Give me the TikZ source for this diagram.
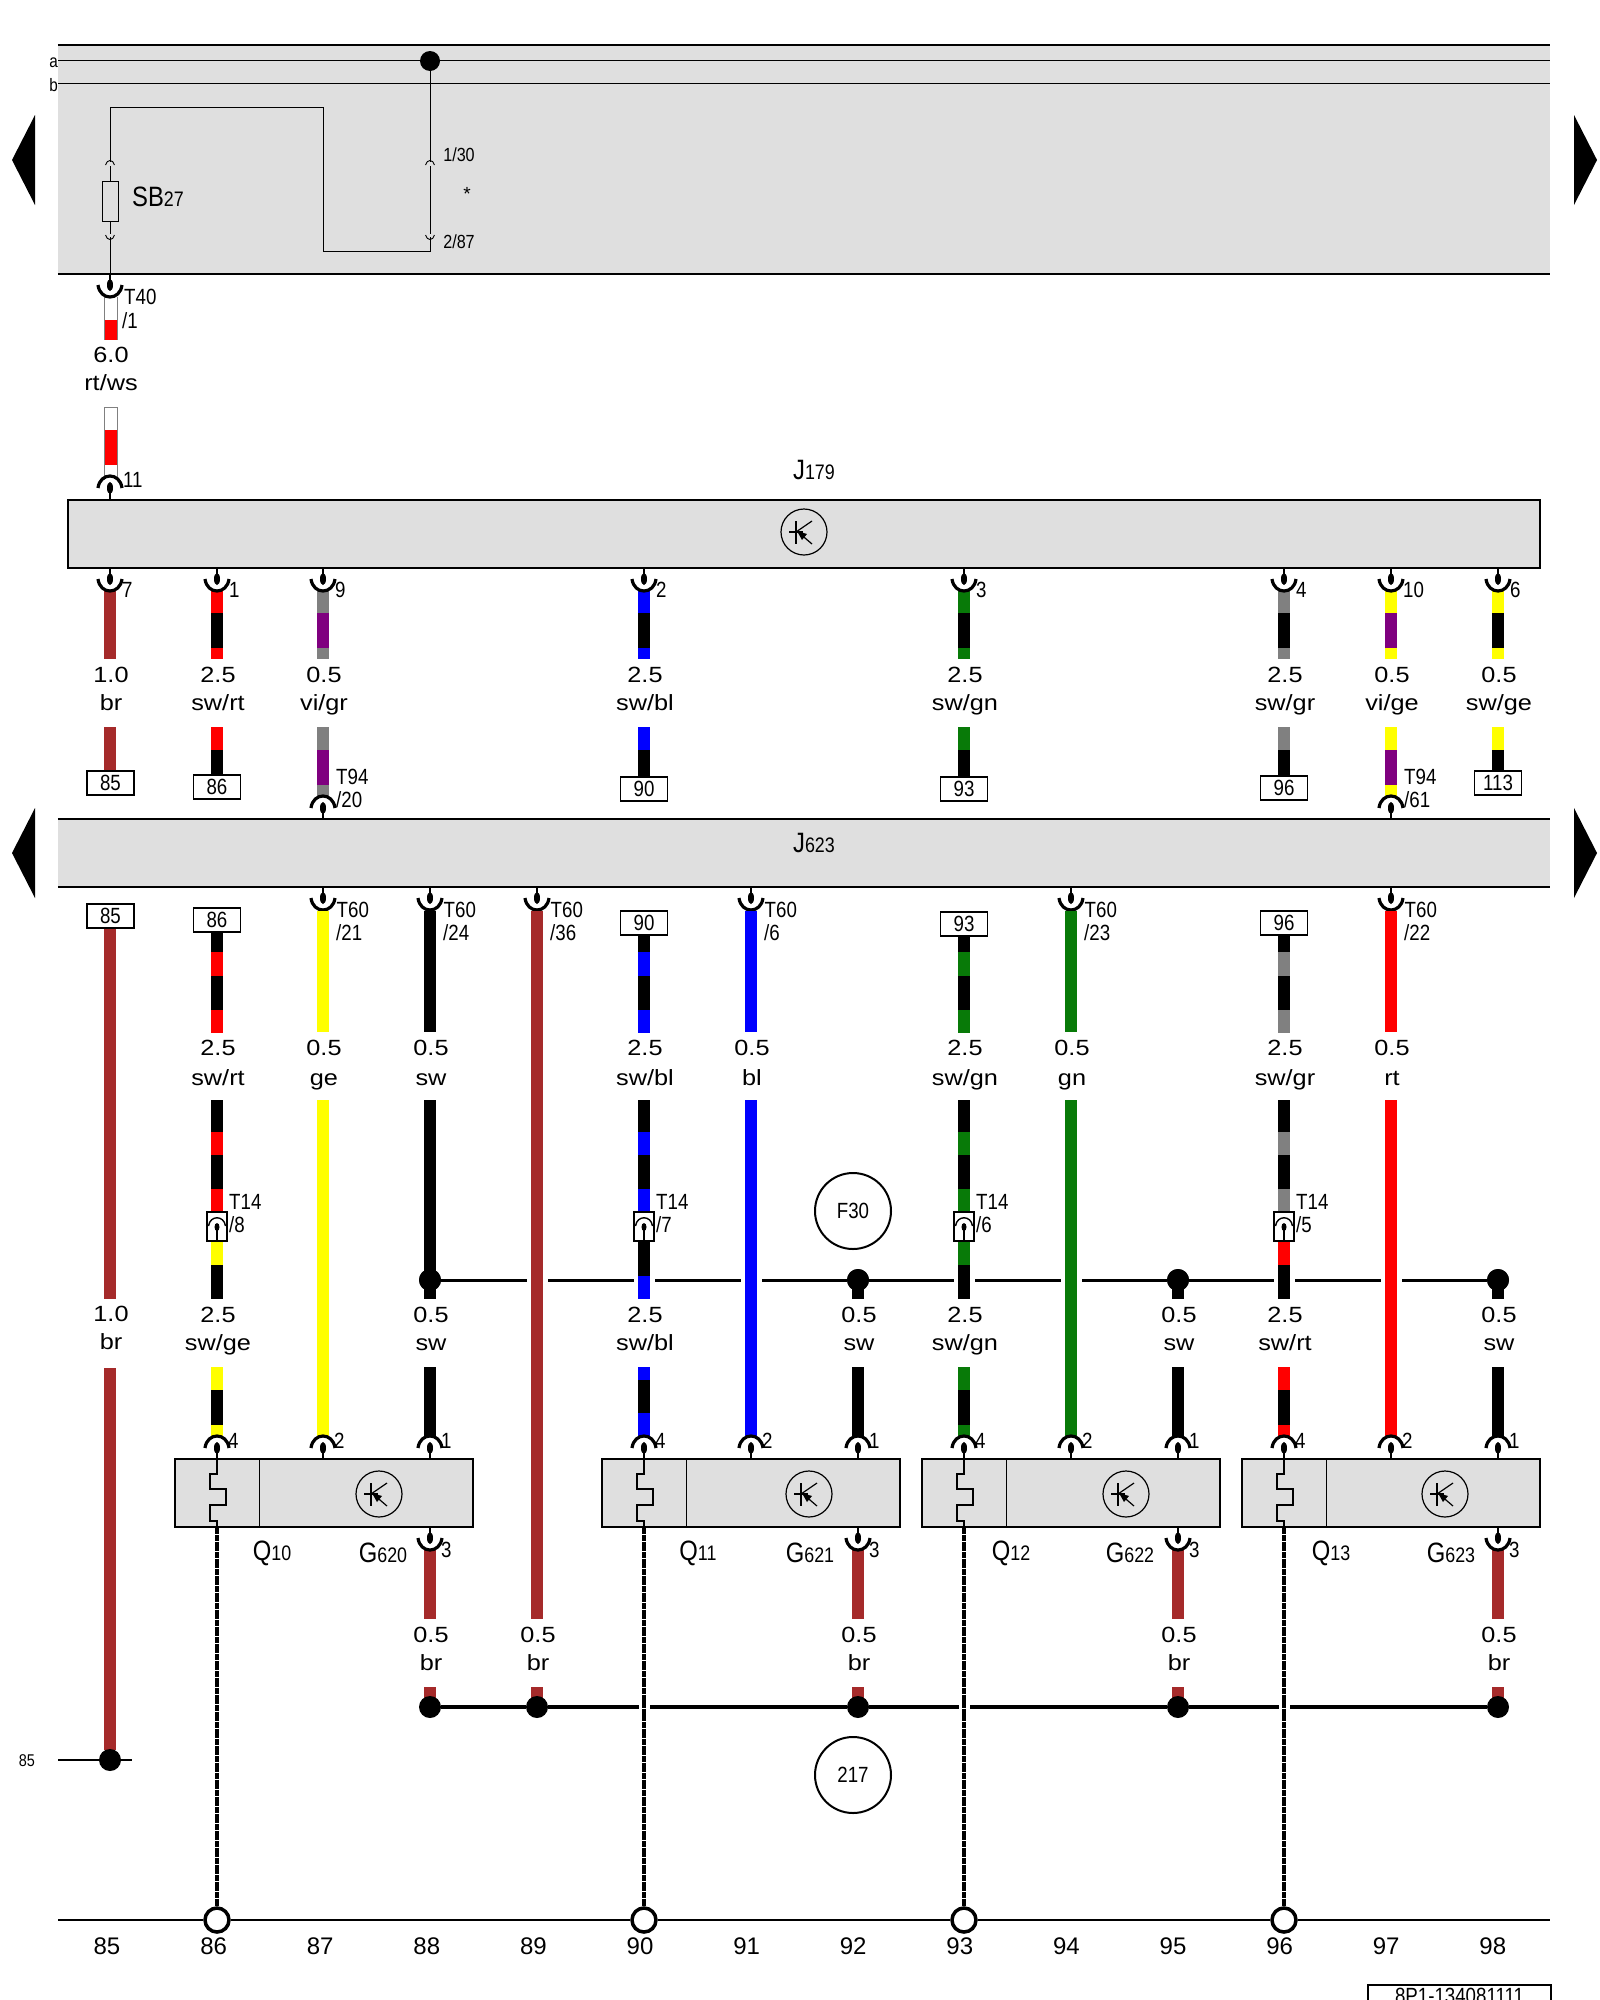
\documentclass[tikz,border=0pt]{standalone}
\usepackage{fontspec}
\usetikzlibrary{arrows}
\setmainfont{Liberation Sans}
\newfontfamily\narrowfont[FakeStretch=0.85]{Liberation Sans}
\newfontfamily\widefont[FakeStretch=1.15]{Liberation Sans}

\definecolor{wbr}{HTML}{A52A2A}
\definecolor{wrt}{HTML}{FF0000}
\definecolor{wge}{HTML}{FFFF00}
\definecolor{wbl}{HTML}{0000FF}
\definecolor{wgn}{HTML}{087A08}
\definecolor{wvi}{HTML}{7F007F}
\definecolor{wgr}{HTML}{808080}
\definecolor{wsw}{HTML}{000000}
\definecolor{strip}{HTML}{DFDFDF}

\newcommand{\wirepart}[4]{\draw[wire,draw=#4] (#1,#2) -- (#1,#3);}
\newcommand{\compname}[2]{{\fontsize{28}{28}\selectfont #1\fontsize{21}{21}\selectfont #2}}

\tikzset{
	wire/.style={line width=12pt},
	stripline/.style={line width=2.5pt},
	thinline/.style={line width=0.9pt},
	gndwire/.style={line width=4pt,dash pattern=on 3pt off 0.4pt},
	stripbox/.style={fill=strip,inner sep=0pt},
	modbox/.style={draw,line width=2pt,fill=strip,inner sep=0pt,minimum height=68pt},
	blob/.style={circle,fill=black,inner sep=0pt,minimum size=22pt},
	gndring/.style={circle,draw,line width=3.5pt,fill=white,inner sep=0pt,minimum size=24pt},
	termbox/.style={draw,line width=1.8pt,fill=white,inner sep=0pt,minimum width=47pt,minimum height=24pt,
		font=\narrowfont\fontsize{22}{22}\selectfont},
	t14box/.style={draw,line width=1.6pt,fill=white,inner sep=0pt,minimum width=20pt,minimum height=29pt},
	gauge/.style={anchor=base,yshift=-7.5pt,inner sep=0pt,font=\widefont\fontsize{22}{22}\selectfont},
	pinno/.style={anchor=west,inner sep=0pt,font=\narrowfont\fontsize{22}{22}\selectfont},
	partlabel/.style={inner sep=0pt,font=\narrowfont},
	ringlabel/.style={circle,draw,line width=2pt,inner sep=0pt,minimum size=76pt,
		font=\narrowfont\fontsize{22}{22}\selectfont},
	pindown/.pic={
		\draw[line width=1.5pt] (0,0) -- (0,6);
		\fill (0,11) ellipse [x radius=3,y radius=6];
		\draw[line width=3.2pt] (-12,11) .. controls (-10,27) and (10,27) .. (12,11);
	},
	pinup/.pic={
		\draw[line width=1.5pt] (0,0) -- (0,-6);
		\fill (0,-11) ellipse [x radius=3,y radius=6];
		\draw[line width=3.2pt] (-12,-11) .. controls (-10,-27) and (10,-27) .. (12,-11);
	},
	pinsmall/.pic={
		\draw[line width=1.4pt] (-8.5,14) .. controls (-7,3) and (7,3) .. (8.5,14);
		\draw[line width=1.4pt] (0,14) -- (0,29);
		\fill (0,15) ellipse [x radius=2.5,y radius=4];
	},
	sensor/.pic={
		\draw[line width=1.2pt] (0,0) circle [radius=23];
		\draw[line width=1.2pt] (-15,0) -- (-1,0);
		\draw[line width=1.2pt] (-8,-11) -- (-8,12);
		\draw[line width=1.2pt] (-8,0) -- (8,-11);
		\draw[line width=1.2pt] (8,12) -- (-6,0);
		\fill (-7,-1) -- (3,2) -- (-2,8) -- cycle;
	},
}

\begin{document}
\begin{tikzpicture}[x=1pt,y=-1pt]
	\clip (0,0) rectangle (1600,2000);
	\fill[white] (0,0) rectangle (1600,2000);

	% sheets and strips
	\node[stripbox,minimum width=1492pt,minimum height=229pt] (top) at (804,159.5) {};
	\node[stripbox,minimum width=1492pt,minimum height=68pt] (j623) at (804,853) {};
	\foreach \s in {top,j623} {
		\draw[stripline] (\s.north west) -- (\s.north east);
		\draw[stripline] (\s.south west) -- (\s.south east);
	}
	\foreach \y in {160,853} {
		\fill (35,\y-45) -- (12,\y) -- (35,\y+45) -- cycle;
		\fill (1574,\y-45) -- (1597,\y) -- (1574,\y+45) -- cycle;
	}
	\node[modbox,minimum width=1472pt] (j179) at (804,533.5) {};
	\pic at (804,532) {sensor};
	\node[partlabel] (nj179) at (814,470) {\compname{J}{179}};
	\node[partlabel] (nj623) at (814,843) {\compname{J}{623}};

	% top strip
	\node[blob,minimum size=20pt] (dtop) at (430,61) {};
	\node[draw,thinline,inner sep=0pt,minimum width=16pt,minimum height=40pt] (fuse) at (110,201) {};
	\node[inner sep=0pt,anchor=east,font=\narrowfont\fontsize{18}{18}\selectfont] (la) at (58,63) {a};
	\node[inner sep=0pt,anchor=east,font=\narrowfont\fontsize{18}{18}\selectfont] (lb) at (58,85) {b};
	\node[partlabel,anchor=west] (nsb) at (132,197) {\compname{SB}{27}};
	\foreach \n/\y/\t in {n130/155/{1/30},n287/242/{2/87}}
		\node[partlabel,font=\narrowfont\fontsize{19}{19}\selectfont] (\n) at (459,\y) {\t};
	\node[partlabel,font=\fontsize{19}{19}\selectfont] (nstar) at (467,194) {*};
	\coordinate (a1) at (58,60);
	\coordinate (a2) at (1550,60);
	\coordinate (b1) at (58,83);
	\coordinate (b2) at (1550,83);
	\coordinate (f1) at (110,107);
	\coordinate (f2) at (323,107);
	\coordinate (f3) at (323,251);
	\coordinate (f4) at (430,251);
	\coordinate (f5) at (110,274);
	\foreach \from/\to in {a1/a2,b1/b2}
		\draw[thinline] (\from) -- (\to);
	\draw[thinline] (fuse.south) -- (f5);
	\draw[thinline] (fuse.north) -- (f1) -- (f2) -- (f3) -- (f4) -- (dtop);
	\foreach \x in {110,430} {
		\fill[strip] (\x-3,162) rectangle (\x+3,166);
		\fill[strip] (\x-3,234) rectangle (\x+3,237);
		\draw[thinline] (\x-4.5,165) .. controls (\x-3,159) and (\x+3,159) .. (\x+4.5,165);
		\draw[thinline] (\x-4.5,235) .. controls (\x-3,241) and (\x+3,241) .. (\x+4.5,235);
	}

	% strip to J179
	\foreach \y/\h in {297/43,407/73} {
		\draw[line width=1pt,wgr] (104,\y) -- (104,\y+\h);
		\draw[line width=1pt,wgr] (117,\y) -- (117,\y+\h);
	}
	\draw[line width=1pt,wgr] (104,407) -- (117,407);
	\wirepart{110.5}{320}{340}{wrt}
	\wirepart{110.5}{430}{465}{wrt}
	\pic at (110,274) {pindown};
	\pic at (110,499) {pinup};
	\node[pinno] (nt40) at (124,297) {T40};
	\node[pinno] (nt401) at (122,321) {/1};
	\node[pinno] (n11) at (123,480) {11};
	\node[gauge] (g60) at (111,355) {6.0};
	\node[gauge] (grt) at (111,383) {rt/ws};

	% J179 outgoing
	\wirepart{110}{590}{659}{wbr}
	\pic at (110,568) {pindown};
	\node[pinno] (p110) at (122,590) {7};
	\node[gauge] (a110) at (111,675) {1.0};
	\node[gauge] (b110) at (111,703) {br};
	\wirepart{110}{727}{775}{wbr}
	\foreach \x/\pin/\a/\b/\mm/\cc in {217/1/wrt/wsw/2.5/{sw/rt},323/9/wgr/wvi/0.5/{vi/gr},644/2/wbl/wsw/2.5/{sw/bl},964/3/wgn/wsw/2.5/{sw/gn},1284/4/wgr/wsw/2.5/{sw/gr},1391/10/wge/wvi/0.5/{vi/ge},1498/6/wge/wsw/0.5/{sw/ge}} {
		\wirepart{\x}{590}{613}{\a}
		\wirepart{\x}{613}{648}{\b}
		\wirepart{\x}{648}{659}{\a}
		\wirepart{\x}{727}{750}{\a}
		\pic at (\x,568) {pindown};
		\node[pinno] (p\x) at (\x+12,590) {\pin};
		\node[gauge] (a\x) at (\x+1,675) {\mm};
		\node[gauge] (b\x) at (\x+1,703) {\cc};
	}
	\foreach \x/\y in {217/775,644/777,964/777,1284/776,1498/771} {
		\wirepart{\x}{750}{\y}{wsw}
	}
	\foreach \x/\a/\t in {323/wgr/20,1391/wge/61} {
		\wirepart{\x}{750}{785}{wvi}
		\wirepart{\x}{785}{797}{\a}
		\pic at (\x,819) {pinup};
		\node[pinno] (t94\x) at (\x+13,777) {T94};
		\node[pinno] (u94\x) at (\x+13,800) {/\t};
	}
	\foreach \n/\x/\y/\t in {m85/110.5/783/85,m86/217/787/86,m90/644/789/90,m93/964/789/93,m96/1284/788/96,m113/1498/783/113}
		\node[termbox] (\n) at (\x,\y) {\t};

	% J623 plain wires
	\wirepart{110}{928}{1299}{wbr}
	\wirepart{110}{1368}{1750}{wbr}
	\node[termbox] (t85) at (110.5,916) {85};
	\node[gauge] (c110) at (111,1314) {1.0};
	\node[gauge] (d110) at (111,1342) {br};
	\foreach \x/\t in {323/21,430/24,537/36,751/6,1071/23,1391/22} {
		\pic at (\x,887) {pindown};
		\node[pinno] (t60\x) at (\x+13.5,910) {T60};
		\node[pinno] (u60\x) at (\x+13,933) {/\t};
	}
	\foreach \x/\c/\cc in {323/wge/ge,430/wsw/sw,751/wbl/bl,1071/wgn/gn,1391/wrt/rt} {
		\wirepart{\x}{911}{1032}{\c}
		\node[gauge] (a2\x) at (\x+1,1048) {0.5};
		\node[gauge] (b2\x) at (\x+1,1078) {\cc};
	}

	% sw bus and the lines that cross it
	\node[blob] (s88) at (430,1280) {};
	\node[blob] (s92) at (858,1280) {};
	\node[blob] (s95) at (1178,1280) {};
	\node[blob] (s98) at (1498,1280) {};
	\draw[line width=3pt] (s88) -- (s92) -- (s95) -- (s98);
	\foreach \x in {537,644,751,964,1071,1284,1391}
		\fill[white] (\x-10.5,1276) rectangle (\x+10.5,1284);
	\foreach \x/\c in {323/wge,751/wbl,1071/wgn,1391/wrt} {
		\wirepart{\x}{1100}{1437}{\c}
	}
	\wirepart{430}{1100}{1299}{wsw}
	\wirepart{537}{911}{1619}{wbr}
	\foreach \x in {858,1178,1498} {
		\wirepart{\x}{1280}{1299}{wsw}
	}
	\foreach \x in {430,858,1178,1498} {
		\wirepart{\x}{1367}{1437}{wsw}
		\node[gauge] (a3\x) at (\x+1,1315) {0.5};
		\node[gauge] (b3\x) at (\x+1,1343) {sw};
	}

	% J623 striped wires with T14
	\foreach \x/\a/\b/\y/\tt/\cu/\cd/\pn in {217/wrt/wge/920/86/{sw/rt}/{sw/ge}/8,644/wbl/wbl/923/90/{sw/bl}/{sw/bl}/7,964/wgn/wgn/924/93/{sw/gn}/{sw/gn}/6,1284/wgr/wrt/923/96/{sw/gr}/{sw/rt}/5} {
		\wirepart{\x}{\y}{1033}{wsw}
		\wirepart{\x}{952}{976}{\a}
		\wirepart{\x}{1010}{1033}{\a}
		\wirepart{\x}{1100}{1299}{wsw}
		\wirepart{\x}{1132}{1155}{\a}
		\wirepart{\x}{1189}{1212}{\a}
		\wirepart{\x}{1241}{1265}{\b}
		\wirepart{\x}{1367}{1437}{wsw}
		\wirepart{\x}{1367}{1390}{\b}
		\wirepart{\x}{1425}{1437}{\b}
		\node[termbox] (t\x) at (\x,\y) {\tt};
		\node[t14box] (k\x) at (\x,1226.5) {};
		\pic at (\x,1212) {pinsmall};
		\node[pinno] (t14\x) at (\x+12,1202) {T14};
		\node[pinno] (u14\x) at (\x+12,1225) {/\pn};
		\node[gauge] (a2\x) at (\x+1,1048) {2.5};
		\node[gauge] (b2\x) at (\x+1,1078) {\cu};
		\node[gauge] (a3\x) at (\x+1,1315) {2.5};
		\node[gauge] (b3\x) at (\x+1,1343) {\cd};
	}
	% the blue one is banded differently
	\wirepart{644}{1241}{1276}{wsw}
	\wirepart{644}{1276}{1299}{wbl}
	\wirepart{644}{1367}{1437}{wsw}
	\wirepart{644}{1367}{1380}{wbl}
	\wirepart{644}{1413}{1437}{wbl}

	\node[ringlabel] (f30) at (853,1211) {F30};
	\node[ringlabel] (r217) at (853,1775) {217};
	\foreach \n in {s88,s92,s95,s98}
		\fill (\n) circle [radius=11];

	% modules
	\foreach \n/\x/\sx/\q/\qx/\gg/\gx in {q10/324/379/10/272/620/383,q11/751/809/11/698/621/810,q12/1071/1126/12/1011/622/1130,q13/1391/1445/13/1331/623/1451} {
		\node[modbox,minimum width=298pt] (\n) at (\x,1493) {};
		\pic at (\sx,1494) {sensor};
		\node[partlabel] (l\n) at (\qx,1553) {\compname{Q}{\q}};
		\node[partlabel] (g\n) at (\gx,1553) {\compname{G}{\gg}};
	}
	\foreach \x/\q in {217/q10,644/q11,964/q12,1284/q13} {
		\draw[thinline] (\x+42,1459) -- (\x+42,1527);
		\draw[line width=1.2pt] (\x,1459) -- (\x,1474) -- (\x-7,1474) -- (\x-7,1489) -- (\x+9,1489) -- (\x+9,1505) -- (\x-7,1505) -- (\x-7,1521) -- (\x,1521) -- (\x,1527);
		\node[gndring] (g\x) at (\x,1920) {};
		\draw[gndwire] (g\x |- \q.south) -- (g\x);
	}
	\foreach \x/\xa/\xb in {217/323/430,644/751/858,964/1071/1178,1284/1391/1498} {
		\pic at (\x,1459) {pinup};
		\pic at (\xa,1459) {pinup};
		\pic at (\xb,1459) {pinup};
		\node[pinno] (n4\x) at (\x+11,1441) {4};
		\node[pinno] (n2\x) at (\xa+11,1441) {2};
		\node[pinno] (n1\x) at (\xb+11,1441) {1};
		\node[pinno] (n3\x) at (\xb+11,1550) {3};
	}

	% brown wires to their bus
	\foreach \x in {430,537,858,1178,1498} {
		\wirepart{\x}{1687}{1706}{wbr}
		\node[gauge] (a4\x) at (\x+1,1635) {0.5};
		\node[gauge] (b4\x) at (\x+1,1663) {br};
	}
	\foreach \x in {430,858,1178,1498} {
		\wirepart{\x}{1549}{1619}{wbr}
		\pic at (\x,1527) {pindown};
	}
	\node[blob] (e88) at (430,1707) {};
	\node[blob] (e89) at (537,1707) {};
	\node[blob] (e92) at (858,1707) {};
	\node[blob] (e95) at (1178,1707) {};
	\node[blob] (e98) at (1498,1707) {};
	\foreach \from/\to in {e88/e89,e89/e92,e92/e95,e95/e98}
		\draw[line width=3.2pt] (\from) -- (\to);
	\foreach \x in {644,964,1284} {
		\fill[white] (\x-5.5,1703) rectangle (\x+5.5,1711);
		\draw[gndwire] (\x,1695) -- (\x,1718);
	}

	% point 85 and the bottom rule
	\node[blob] (e85) at (110,1760) {};
	\coordinate (h1) at (58,1760);
	\coordinate (h2) at (132,1760);
	\draw[line width=2pt] (h1) -- (e85) -- (h2);
	\node[inner sep=0pt,font=\narrowfont\fontsize{17}{17}\selectfont] (n85) at (27,1761) {85};
	\coordinate (z1) at (58,1920);
	\coordinate (z2) at (1550,1920);
	\draw[line width=2.2pt] (z1) -- (g217) -- (g644) -- (g964) -- (g1284) -- (z2);
	\foreach \n in {85,...,98}
		\node[inner sep=0pt,font=\fontsize{24}{24}\selectfont] (col\n) at ({107+106.6*(\n-85)},1946) {\n};
	\node[draw,line width=2pt,fill=white,anchor=north,minimum width=183pt,inner xsep=0pt,inner ysep=3pt,font=\narrowfont\fontsize{22}{22}\selectfont] (doc) at (1459.5,1984) {8P1-134081111};
\end{tikzpicture}
\end{document}
